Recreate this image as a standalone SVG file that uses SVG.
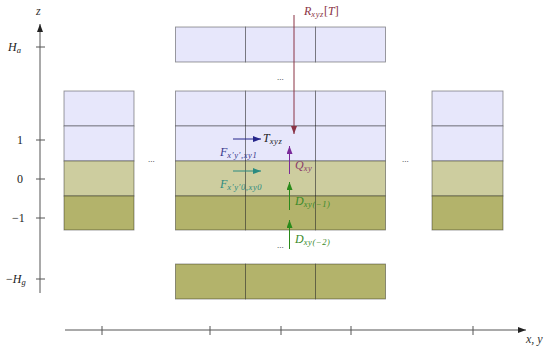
<svg xmlns="http://www.w3.org/2000/svg" width="550" height="346" viewBox="0 0 550 346">
<style>
.cell{stroke:#000;stroke-opacity:0.42;stroke-width:0.9}
.air{fill:#e7e7fb}
.top{fill:#cdcd9f}
.soil{fill:#b3b36b}
.axis{stroke:#555;stroke-width:1;fill:none}
.t{font-family:"Liberation Serif",serif;font-size:12px;fill:#222}
.m{font-family:"Liberation Serif",serif;font-style:italic;font-size:12px}
.s{font-size:8.5px;letter-spacing:0.6px}
.dots{font-family:"Liberation Serif",serif;font-size:9px;fill:#333}
</style>
<defs>
<marker id="ah-gray" markerUnits="userSpaceOnUse" markerWidth="8" markerHeight="6" refX="8" refY="3" orient="auto"><path d="M0,0 L8,3 L0,6 z" fill="#222"/></marker>
<marker id="ah-red" markerUnits="userSpaceOnUse" markerWidth="8" markerHeight="6" refX="8" refY="3" orient="auto"><path d="M0,0 L8,3 L0,6 z" fill="#8a3345"/></marker>
<marker id="ah-blue" markerUnits="userSpaceOnUse" markerWidth="8" markerHeight="6" refX="8" refY="3" orient="auto"><path d="M0,0 L8,3 L0,6 z" fill="#25258a"/></marker>
<marker id="ah-teal" markerUnits="userSpaceOnUse" markerWidth="8" markerHeight="6" refX="8" refY="3" orient="auto"><path d="M0,0 L8,3 L0,6 z" fill="#2a8a80"/></marker>
<marker id="ah-purple" markerUnits="userSpaceOnUse" markerWidth="8" markerHeight="6" refX="8" refY="3" orient="auto"><path d="M0,0 L8,3 L0,6 z" fill="#7a2a9a"/></marker>
<marker id="ah-green" markerUnits="userSpaceOnUse" markerWidth="8" markerHeight="6" refX="8" refY="3" orient="auto"><path d="M0,0 L8,3 L0,6 z" fill="#2a8a1a"/></marker>
</defs>

<g id="z-axis">
<line class="axis" x1="40" y1="293" x2="40" y2="24" marker-end="url(#ah-gray)"/>
<text class="m" x="36" y="15" font-size="10" fill="#333">z</text>
<line class="axis" x1="36" y1="47" x2="45" y2="47"/>
<line class="axis" x1="36" y1="140" x2="45" y2="140"/>
<line class="axis" x1="36" y1="179" x2="45" y2="179"/>
<line class="axis" x1="36" y1="218" x2="45" y2="218"/>
<line class="axis" x1="36" y1="279" x2="45" y2="279"/>
<text class="m" x="8" y="51" fill="#222">H<tspan class="s" dy="2">a</tspan></text>
<text class="t" x="17" y="144">1</text>
<text class="t" x="17" y="183">0</text>
<text class="t" x="12" y="222">−1</text>
<text class="m" x="6" y="283" fill="#222"><tspan font-style="normal">−</tspan>H<tspan class="s" dy="2">g</tspan></text>
</g>

<g id="xy-axis">
<line class="axis" x1="65" y1="330" x2="526" y2="330" marker-end="url(#ah-gray)"/>
<line class="axis" x1="102" y1="326" x2="102" y2="335"/>
<line class="axis" x1="210" y1="326" x2="210" y2="335"/>
<line class="axis" x1="281" y1="326" x2="281" y2="335"/>
<line class="axis" x1="351" y1="326" x2="351" y2="335"/>
<line class="axis" x1="473" y1="326" x2="473" y2="335"/>
<text class="m" x="526" y="343" font-size="10" fill="#333">x, y</text>
</g>

<g id="left-column">
<rect class="cell air" x="64" y="91" width="70" height="35"/>
<rect class="cell air" x="64" y="126" width="70" height="35"/>
<rect class="cell top" x="64" y="161" width="70" height="35"/>
<rect class="cell soil" x="64" y="196" width="70" height="34"/>
</g>

<g id="center-top-row">
<rect class="cell air" x="175.5" y="27" width="70" height="35"/>
<rect class="cell air" x="245.5" y="27" width="70" height="35"/>
<rect class="cell air" x="315.5" y="27" width="70" height="35"/>
</g>

<g id="center-column">
<rect class="cell air" x="175.5" y="91" width="70" height="35"/>
<rect class="cell air" x="245.5" y="91" width="70" height="35"/>
<rect class="cell air" x="315.5" y="91" width="70" height="35"/>
<rect class="cell air" x="175.5" y="126" width="70" height="35"/>
<rect class="cell air" x="245.5" y="126" width="70" height="35"/>
<rect class="cell air" x="315.5" y="126" width="70" height="35"/>
<rect class="cell top" x="175.5" y="161" width="70" height="35"/>
<rect class="cell top" x="245.5" y="161" width="70" height="35"/>
<rect class="cell top" x="315.5" y="161" width="70" height="35"/>
<rect class="cell soil" x="175.5" y="196" width="70" height="34"/>
<rect class="cell soil" x="245.5" y="196" width="70" height="34"/>
<rect class="cell soil" x="315.5" y="196" width="70" height="34"/>
</g>

<g id="center-bottom-row">
<rect class="cell soil" x="175.5" y="264" width="70" height="35"/>
<rect class="cell soil" x="245.5" y="264" width="70" height="35"/>
<rect class="cell soil" x="315.5" y="264" width="70" height="35"/>
</g>

<g id="right-column">
<rect class="cell air" x="432" y="91" width="71" height="35"/>
<rect class="cell air" x="432" y="126" width="71" height="35"/>
<rect class="cell top" x="432" y="161" width="71" height="35"/>
<rect class="cell soil" x="432" y="196" width="71" height="34"/>
</g>

<g id="ellipses">
<text class="dots" x="277" y="80">...</text>
<text class="dots" x="148" y="162">...</text>
<text class="dots" x="402" y="162">...</text>
<text class="dots" x="277" y="248">...</text>
</g>

<g id="connectors">
<line x1="294" y1="15" x2="294" y2="134" stroke="#8a3345" stroke-width="1" marker-end="url(#ah-red)"/>
<line x1="233" y1="139" x2="261" y2="139" stroke="#25258a" stroke-width="1" marker-end="url(#ah-blue)"/>
<line x1="233" y1="171" x2="261" y2="171" stroke="#2a8a80" stroke-width="1" marker-end="url(#ah-teal)"/>
<line x1="289.5" y1="174" x2="289.5" y2="146" stroke="#7a2a9a" stroke-width="1" marker-end="url(#ah-purple)"/>
<line x1="289.5" y1="210" x2="289.5" y2="182" stroke="#2a8a1a" stroke-width="1" marker-end="url(#ah-green)"/>
<line x1="289.5" y1="249" x2="289.5" y2="220" stroke="#2a8a1a" stroke-width="1" marker-end="url(#ah-green)"/>
</g>

<g id="labels">
<text class="m" x="304" y="15" fill="#8a3345">R<tspan class="s" dy="2">xyz</tspan><tspan dy="-2" font-style="normal">[</tspan>T<tspan font-style="normal">]</tspan></text>
<text class="m" x="263" y="142" fill="#222">T<tspan class="s" dy="2">xyz</tspan></text>
<text class="m" x="220" y="156" fill="#35358a">F<tspan class="s" dy="2">x′y′,xy1</tspan></text>
<text class="m" x="220" y="188" fill="#2a8a80">F<tspan class="s" dy="2">x′y′0,xy0</tspan></text>
<text class="m" x="295" y="169" fill="#8a3a6a">Q<tspan class="s" dy="2">xy</tspan></text>
<text class="m" x="295" y="205" fill="#3a8a2a">D<tspan class="s" dy="2">xy(−1)</tspan></text>
<text class="m" x="295" y="243" fill="#3a8a2a">D<tspan class="s" dy="2">xy(−2)</tspan></text>
</g>
</svg>
